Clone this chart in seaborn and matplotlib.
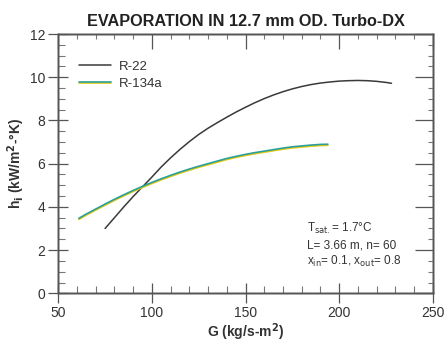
import matplotlib
matplotlib.use("Agg")
import matplotlib.pyplot as plt
import matplotlib.patheffects as pe
from matplotlib.ticker import MultipleLocator, FixedLocator, NullFormatter
import seaborn as sns
import pandas as pd

# Data
g_r22 = [75, 80, 85, 90, 95, 100, 105, 110, 115, 120, 125, 130, 135, 140, 145, 150,
         155, 160, 165, 170, 175, 180, 185, 190, 195, 200, 205, 210, 215, 220, 225, 228]
h_r22 = [3.0, 3.5, 4.0, 4.48, 4.93, 5.38, 5.85, 6.27, 6.66, 7.02, 7.35, 7.64, 7.9, 8.15,
         8.39, 8.61, 8.82, 9.01, 9.18, 9.33, 9.46, 9.57, 9.66, 9.73, 9.78, 9.82, 9.84,
         9.85, 9.84, 9.81, 9.76, 9.72]
g_r134a = [61, 65, 70, 75, 80, 85, 90, 95, 100, 105, 110, 115, 120, 125, 130, 135, 140,
           145, 150, 155, 160, 165, 170, 175, 180, 185, 190, 194]
h_r134a = [3.47, 3.67, 3.9, 4.13, 4.35, 4.56, 4.76, 4.95, 5.13, 5.3, 5.46, 5.61, 5.75,
           5.88, 6.0, 6.12, 6.24, 6.34, 6.43, 6.51, 6.58, 6.65, 6.72, 6.78, 6.82, 6.86,
           6.89, 6.9]
series_names = ["R-22", "R-134a"]
x_ticks = [50, 100, 150, 200, 250]
y_ticks = [0, 2, 4, 6, 8, 10, 12]
x_minor = list(range(50, 251, 10))
y_minor = [v * 0.5 for v in range(0, 25)]

sns.set_style("ticks")
plt.rcParams['font.family'] = ['Liberation Sans', 'DejaVu Sans']

fig = plt.figure(figsize=(4.46, 3.46), dpi=100)
ax = fig.add_axes([0.1307, 0.1523, 0.8395, 0.7494])

df22 = pd.DataFrame({"G": g_r22, "h": h_r22})
df134 = pd.DataFrame({"G": g_r134a, "h": h_r134a})

sns.lineplot(data=df22, x="G", y="h", ax=ax, color="#3a3a3a", linewidth=1.1,
             label=series_names[0])
sns.lineplot(data=df134, x="G", y="h", ax=ax, color="#2a9e9a", linewidth=1.2,
             label=series_names[1],
             path_effects=[pe.SimpleLineShadow(offset=(0, -0.8), shadow_color="#e6cc10", alpha=1.0),
                           pe.Normal()])

ax.set_xlim(50, 250)
ax.set_ylim(0, 12)
ax.xaxis.set_major_locator(FixedLocator(x_ticks))
ax.yaxis.set_major_locator(FixedLocator(y_ticks))
ax.xaxis.set_minor_locator(FixedLocator(x_minor))
ax.yaxis.set_minor_locator(FixedLocator(y_minor))

axis_col = "#555555"
for s in ax.spines.values():
    s.set_color(axis_col)
    s.set_linewidth(1.0)
    s.set_visible(True)

ax.tick_params(axis="both", which="major", direction="inout", length=15, width=0.9,
               color=axis_col, labelsize=10, labelcolor="#333333", pad=2,
               bottom=True, left=True, top=False, right=False)
ax.tick_params(axis="both", which="minor", direction="in", length=5, width=0.8,
               color="#777777", bottom=True, left=True, top=False, right=False)

# top tick marks
axt = ax.twiny()
axt.set_xlim(50, 250)
axt.xaxis.set_major_locator(FixedLocator(x_ticks))
axt.xaxis.set_minor_locator(FixedLocator(x_minor))
axt.xaxis.set_major_formatter(NullFormatter())
axt.tick_params(axis="x", which="major", direction="in", length=11, width=0.9,
                color=axis_col, top=True, bottom=False, labeltop=False)
axt.tick_params(axis="x", which="minor", direction="in", length=3.5, width=0.8,
                color="#777777", top=True, bottom=False)
axt.tick_params(axis="y", which="both", left=False, right=False, labelleft=False, labelright=False)
# right tick marks
axr = ax.twinx()
axr.set_ylim(0, 12)
axr.yaxis.set_major_locator(FixedLocator(y_ticks))
axr.yaxis.set_minor_locator(FixedLocator(y_minor))
axr.yaxis.set_major_formatter(NullFormatter())
axr.tick_params(axis="y", which="major", direction="in", length=13, width=0.9,
                color=axis_col, right=True, left=False, labelright=False)
axr.tick_params(axis="y", which="minor", direction="in", length=3.5, width=0.8,
                color="#777777", right=True, left=False)
axr.tick_params(axis="x", which="both", top=False, bottom=False, labeltop=False, labelbottom=False)
for a in (axt, axr):
    for s in a.spines.values():
        s.set_color(axis_col)
        s.set_linewidth(1.0)

ax.set_title("EVAPORATION IN 12.7 mm OD. Turbo-DX", fontsize=11.7, fontweight="bold",
             color="#222222", pad=6)
ax.set_xlabel("G (kg/s-m$^{\\mathbf{2}}$)", fontsize=10, fontweight="bold", color="#333333", labelpad=1)
ax.set_ylabel("h$_{\\mathbf{i}}$ (kW/m$^{\\mathbf{2}}$-°K)", fontsize=10, fontweight="bold",
              color="#333333", labelpad=2)

leg = ax.legend(loc="upper left", bbox_to_anchor=(0.041, 0.918), frameon=False, fontsize=9.5,
                handlelength=2.4, handletextpad=0.6, labelspacing=0.35, borderaxespad=0)
for t in leg.get_texts():
    t.set_color("#333333")

ax.text(0.663, 0.252, "T$_{\\mathrm{sat.}}$= 1.7°C", transform=ax.transAxes, fontsize=8.5,
        color="#333333", va="center")
ax.text(0.663, 0.186, "L= 3.66 m, n= 60", transform=ax.transAxes, fontsize=8.5,
        color="#333333", va="center")
ax.text(0.663, 0.124, "x$_{\\mathrm{in}}$= 0.1, x$_{\\mathrm{out}}$= 0.8", transform=ax.transAxes,
        fontsize=8.5, color="#333333", va="center")

fig.savefig("out.png", dpi=100)
